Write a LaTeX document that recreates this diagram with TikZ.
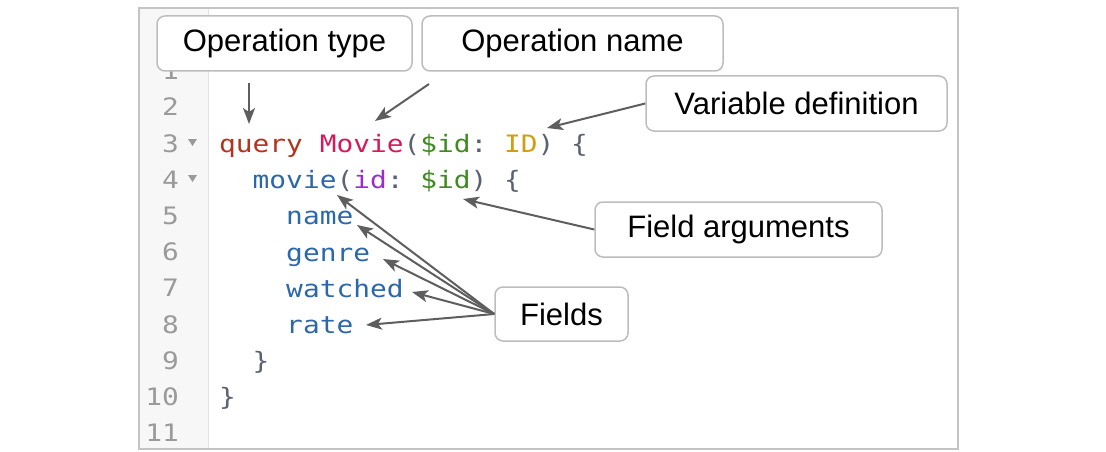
\documentclass[tikz,border=0pt]{standalone}
\usepackage{fontspec}
\setmainfont{Liberation Sans}
\newfontfamily\codefont[FakeStretch=1.16]{DejaVu Sans Mono}
\usetikzlibrary{arrows.meta}
\definecolor{frame}{HTML}{C4C4C4}
\definecolor{gutter}{HTML}{F7F7F7}
\definecolor{gutline}{HTML}{E2E2E2}
\definecolor{lnum}{HTML}{9A9A9A}
\definecolor{cq}{HTML}{B3341E}
\definecolor{cM}{HTML}{D41A5B}
\definecolor{cp}{HTML}{5A6272}
\definecolor{cg}{HTML}{3E8B1F}
\definecolor{cy}{HTML}{D09E12}
\definecolor{cv}{HTML}{9B2BD0}
\definecolor{cb}{HTML}{2B67AA}
\definecolor{arr}{HTML}{5E5E5E}
\definecolor{boxline}{HTML}{BDBDBD}
\tikzset{
  code/.style={anchor=base west, inner sep=0pt, font=\codefont\fontsize{24}{24}\selectfont\frenchspacing},
  lnumber/.style={anchor=base east, inner sep=0pt, text=lnum, font=\codefont\fontsize{24}{24}\selectfont},
  lbl/.style={draw=boxline, line width=1.5pt, fill=white, rounded corners=8pt, inner sep=0pt,
    font=\fontsize{31}{36}\selectfont, text=black},
  callout/.style={draw=arr, line width=2pt, -{Stealth[length=16pt,width=12pt,inset=4pt]}},
  fold/.style={fill=lnum, draw=none}
}
\begin{document}
\begin{tikzpicture}[x=1pt,y=-1pt]
\useasboundingbox (0,0) rectangle (1106,452);
% editor frame and gutter
\fill[gutter] (140,9) rectangle (208,448);
\draw[gutline, line width=1pt] (208,9) -- (208,448);
\draw[frame, line width=2pt] (139,8) rectangle (958,449);
% line numbers
\foreach \n in {1,...,11} {
  \node[lnumber] (n\n) at (179,{152+(\n-3)*36.2}) {\n};
}
% fold markers
\fill[fold] (188,139) -- (197,139) -- (192.5,146) -- cycle;
\fill[fold] (188,175) -- (197,175) -- (192.5,182) -- cycle;
% code
\node[code] (l3) at (219,152) {\textcolor{cq}{query} \textcolor{cM}{Movie}\textcolor{cp}{(}\textcolor{cg}{\$id}\textcolor{cp}{:} \textcolor{cy}{ID}\textcolor{cp}{)} \textcolor{cp}{\{}};
\node[code] (l4) at (219,188) {\phantom{mm}\textcolor{cb}{movie}\textcolor{cp}{(}\textcolor{cv}{id}\textcolor{cp}{:} \textcolor{cg}{\$id}\textcolor{cp}{)} \textcolor{cp}{\{}};
\node[code] (l5) at (219,224) {\phantom{mmmm}\textcolor{cb}{name}};
\node[code] (l6) at (219,261) {\phantom{mmmm}\textcolor{cb}{genre}};
\node[code] (l7) at (219,297) {\phantom{mmmm}\textcolor{cb}{watched}};
\node[code] (l8) at (219,333) {\phantom{mmmm}\textcolor{cb}{rate}};
\node[code] (l9) at (219,369) {\phantom{mm}\textcolor{cp}{\}}};
\node[code] (l10) at (219,405) {\textcolor{cp}{\}}};
% label boxes
\node[lbl, minimum width=255pt, minimum height=55pt] (optype) at (284.5,43.5) {Operation type};
\node[lbl, minimum width=301pt, minimum height=55pt] (opname) at (572.5,43.5) {Operation name};
\node[lbl, minimum width=301pt, minimum height=55pt] (vardef) at (796.5,103.5) {Variable definition};
\node[lbl, minimum width=287pt, minimum height=55pt] (fargs) at (738.5,229.5) {Field arguments};
\node[lbl, minimum width=133pt, minimum height=54pt] (fields) at (561.5,314) {Fields};
% arrow end points
\coordinate (optypeS) at (249,83);
\coordinate (optypeT) at (249,124);
\coordinate (opnameS) at (429,84);
\coordinate (opnameT) at (375,121);
\coordinate (vardefT) at (547,128);
\coordinate (fargsT) at (463,199);
\coordinate (fA) at (337,195);
\coordinate (fB) at (357,225);
\coordinate (fC) at (383,259);
\coordinate (fD) at (412,292);
\coordinate (fE) at (366,325);
% connectors
\draw[callout] (optypeS) -- (optypeT);
\draw[callout] (opnameS) -- (opnameT);
\draw[callout] (vardef.west) -- (vardefT);
\draw[callout] (fargs.west) -- (fargsT);
\foreach \t in {fA,fB,fC,fD,fE} {
  \draw[callout] (fields.west) -- (\t);
}
\end{tikzpicture}
\end{document}
